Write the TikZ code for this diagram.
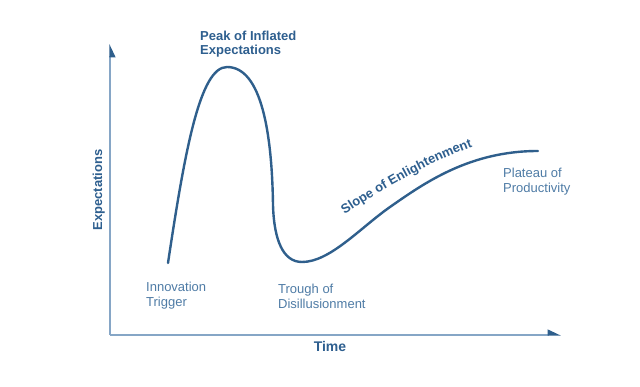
\documentclass[tikz,border=0pt]{standalone}
\usepackage{fontspec}
\setmainfont{Liberation Sans}
\usetikzlibrary{arrows.meta,decorations.text}
\definecolor{curveblue}{HTML}{2F5F8C}
\definecolor{axisblue}{HTML}{86A6C6}
\definecolor{labblue}{HTML}{4F7CA6}
\definecolor{darkblue}{HTML}{2E5F8F}
\newcommand\slopefont{\bfseries\fontsize{13}{15}\selectfont}
\begin{document}
\begin{tikzpicture}[x=1pt,y=-1pt,
  axis/.style={draw=axisblue, line width=1.3pt},
  hype/.style={draw=curveblue, line width=2.4pt, line cap=round, line join=round},
  lab/.style={font=\fontsize{13}{14.5}\selectfont, text=labblue, align=left, inner sep=0pt, anchor=north west},
  boldlab/.style={font=\bfseries\fontsize{13}{14}\selectfont, text=darkblue, align=left, inner sep=0pt}]
\path[use as bounding box, fill=white] (0,0) rectangle (640,387);
% axes
\coordinate (O) at (110,335);
\coordinate (Ytop) at (110,44);
\coordinate (Xend) at (561,335);
\draw[axis, -{Triangle[right,length=12pt,width=11pt,color=curveblue]}] (O) -- (Ytop);
\draw[axis, -{Triangle[left,length=12pt,width=11pt,color=curveblue]}] (O) -- (Xend);
% hype curve
\draw[hype] (168,263) .. controls (185,150) and (200,67) .. (227,67)
  .. controls (262,67) and (272,135) .. (273,205)
  .. controls (274,240) and (283,262) .. (302,262)
  .. controls (330,262) and (360,228) .. (390,207)
  .. controls (425,182.5) and (470,151) .. (538,151);
% labels
\node[boldlab, anchor=north west] (peak) at (200,31) {Peak of Inflated\\Expectations};
\node[lab] (trigger) at (146,282) {Innovation\\Trigger};
\node[lab] (trough) at (278,284) {Trough of\\Disillusionment};
\node[lab] (plateau) at (503,168) {Plateau of\\Productivity};
\node[boldlab, font=\bfseries\fontsize{14}{16}\selectfont, anchor=base] (time) at (330,352) {Time};
\node[boldlab, rotate=90, anchor=base] (expect) at (102,190) {Expectations};
\path[decorate, decoration={text along path, text={|\slopefont|Slope of Enlightenment}, text align=center, text color=darkblue}]
  (338,219) .. controls (368,199) and (420,165) .. (480,144);
\end{tikzpicture}
\end{document}
